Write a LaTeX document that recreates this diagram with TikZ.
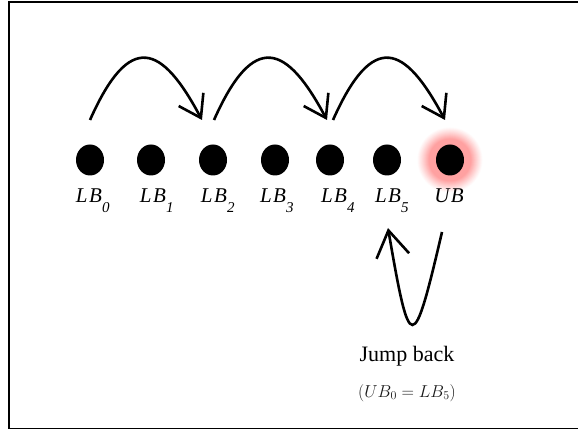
\documentclass[tikz,border=0pt]{standalone}
\usepackage{fontspec}
\setmainfont{Liberation Serif}
\usetikzlibrary{arrows.meta,shapes.geometric}
\newcommand\lbsub[1]{\rlap{\raisebox{-10pt}{\fontsize{15}{15}\selectfont\itshape #1}}}
\tikzset{
  dotnode/.style={ellipse,fill=black,inner sep=0pt,minimum width=28pt,minimum height=31pt},
  lbl/.style={anchor=base,inner sep=0pt,font=\fontsize{21}{21}\selectfont\itshape},
  jumparrow/.style={line width=2.6pt,-{Straight Barb[length=21pt,width=28pt]}},
  backarrow/.style={line width=2.6pt,-{Straight Barb[length=26pt,width=33pt]}},
  frameline/.style={line width=1.8pt}
}
\begin{document}
\begin{tikzpicture}[x=1pt,y=-1pt]
\useasboundingbox (0,0) rectangle (578,430);
\draw[frameline] (578,2) -- (9,2) -- (9,428.5) -- (578,428.5);
% glow behind UB
\foreach \r in {33,32.5,...,14}{
  \pgfmathsetmacro\p{min(37,37*((33-\r)/12)^1.1)}
  \fill[red!\p] (450,160) circle (\r);
}
% dots
\node[dotnode] (d0) at (90,160) {};
\node[dotnode] (d1) at (151,160) {};
\node[dotnode] (d2) at (213,160) {};
\node[dotnode] (d3) at (275,160) {};
\node[dotnode] (d4) at (330,160) {};
\node[dotnode] (d5) at (387,160) {};
\node[dotnode] (ub) at (450,160) {};
% labels
\node[lbl] (l0) at (89,203) {L\kern1.5pt B\lbsub{0}};
\node[lbl] (l1) at (153,203) {L\kern1.5pt B\lbsub{1}};
\node[lbl] (l2) at (214,203) {L\kern1.5pt B\lbsub{2}};
\node[lbl] (l3) at (273,203) {L\kern1.5pt B\lbsub{3}};
\node[lbl] (l4) at (334,203) {L\kern1.5pt B\lbsub{4}};
\node[lbl] (l5) at (388,203) {L\kern1.5pt B\lbsub{5}};
\node[lbl] (lub) at (449,203) {U\kern1.5pt B};
% forward jumps
\draw[jumparrow] ([shift={(0,-40)}]d0.center) .. controls +(40,-90) and +(-40,-75) .. ([shift={(-11,-40)}]d2.center);
\draw[jumparrow] ([shift={(1,-40)}]d2.center) .. controls +(40,-90) and +(-40,-75) .. ([shift={(-3,-40)}]d4.center);
\draw[jumparrow] ([shift={(3,-40)}]d4.center) .. controls +(40,-90) and +(-40,-75) .. ([shift={(-5,-40)}]ub.center);
% jump back
\coordinate (jbs) at (442,232);
\coordinate (jbe) at (388,228);
\draw[backarrow] (jbs) .. controls (413,356) and (410,356) .. (jbe);
\node[anchor=base,inner sep=0pt,font=\fontsize{22}{22}\selectfont] (jt) at (407,361) {Jump back};
\node[anchor=base,inner sep=0pt,text=black!90] (jf) at (407,397) {\fontsize{17}{17}\selectfont$(UB_0 = LB_5)$};
\end{tikzpicture}
\end{document}
